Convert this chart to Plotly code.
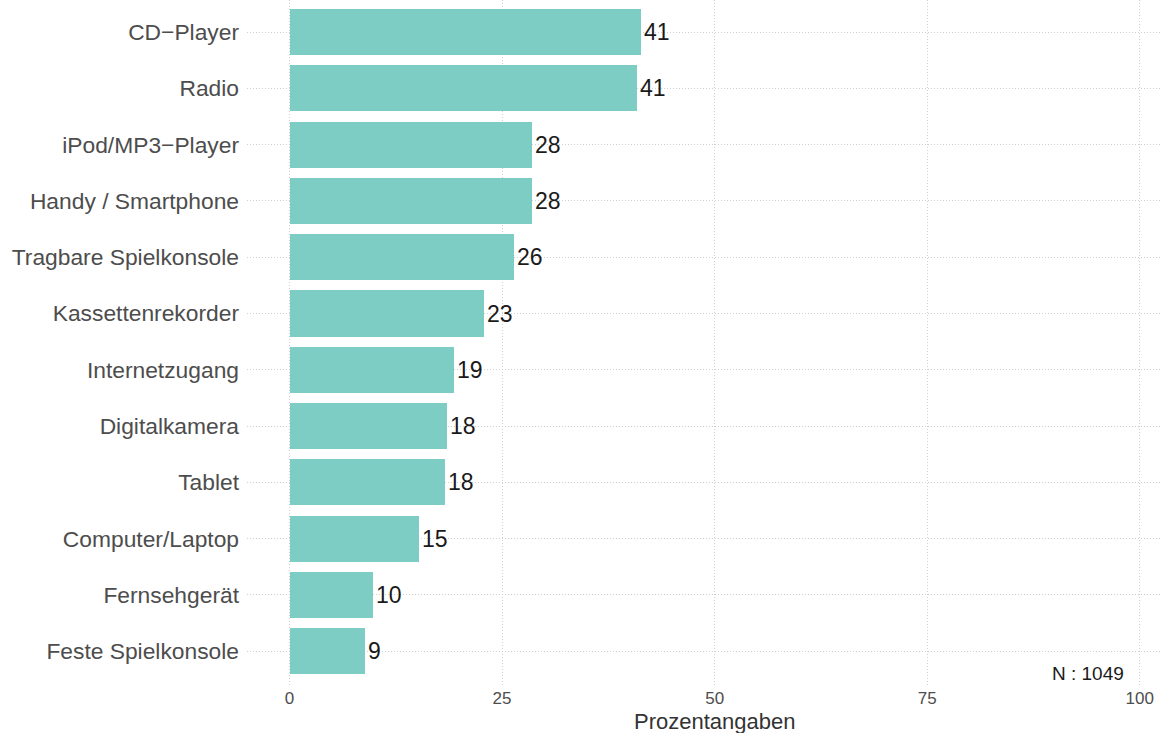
import plotly.graph_objects as go

categories = ["CD−Player", "Radio", "iPod/MP3−Player", "Handy / Smartphone",
              "Tragbare Spielkonsole", "Kassettenrekorder", "Internetzugang",
              "Digitalkamera", "Tablet", "Computer/Laptop", "Fernsehgerät",
              "Feste Spielkonsole"]
values = [41.3, 40.9, 28.5, 28.5, 26.4, 22.9, 19.3, 18.5, 18.3, 15.2, 9.8, 8.9]
labels = ["41", "41", "28", "28", "26", "23", "19", "18", "18", "15", "10", "9"]
x_ticks = [0, 25, 50, 75, 100]
n_text = "N : 1049"
axis_title = "Prozentangaben"

cats_rev = categories[::-1]
vals_rev = values[::-1]
labs_rev = labels[::-1]

FONT = "Liberation Sans, Arial, sans-serif"

fig = go.Figure(go.Bar(
    x=vals_rev, y=cats_rev, orientation="h",
    marker=dict(color="#7DCDC4", line=dict(width=0)),
    width=0.82,
    text=labs_rev, textposition="outside", cliponaxis=False,
    textfont=dict(size=23, color="#1a1a1a", family=FONT),
    hoverinfo="skip",
))

fig.add_annotation(x=98.4, y=0, yshift=-22, xref="x", yref="y",
                   text=n_text, showarrow=False, xanchor="right", yanchor="middle",
                   font=dict(size=19, color="#1a1a1a", family=FONT))
fig.add_annotation(x=50, y=0, yshift=-36, xref="x", yref="paper",
                   text=axis_title, showarrow=False, xanchor="center", yanchor="middle",
                   font=dict(size=22, color="#333333", family=FONT))

fig.update_layout(
    width=1161, height=733,
    margin=dict(l=247, r=0, t=0, b=48),
    plot_bgcolor="white", paper_bgcolor="white",
    showlegend=False,
    font=dict(family=FONT),
    bargap=0,
)
fig.update_xaxes(
    range=[-5, 102.5], tickvals=x_ticks, ticktext=[str(v) for v in x_ticks],
    showgrid=True, gridcolor="#d0d0d0", griddash="1px,2px", gridwidth=1,
    zeroline=False, showline=False, ticks="",
    tickfont=dict(size=17, color="#4d4d4d", family=FONT),
    ticklabelstandoff=1,
)
fig.update_yaxes(
    range=[-0.6, 11.57], categoryorder="array", categoryarray=cats_rev,
    showgrid=True, gridcolor="#d0d0d0", griddash="1px,2px", gridwidth=1,
    zeroline=False, showline=False, ticks="",
    tickfont=dict(size=22.8, color="#4d4d4d", family=FONT),
    ticklabelstandoff=7,
)

fig.write_html("out.html", config={"displayModeBar": False},
               post_script="document.body.style.margin='0';document.body.style.overflow='hidden';")
